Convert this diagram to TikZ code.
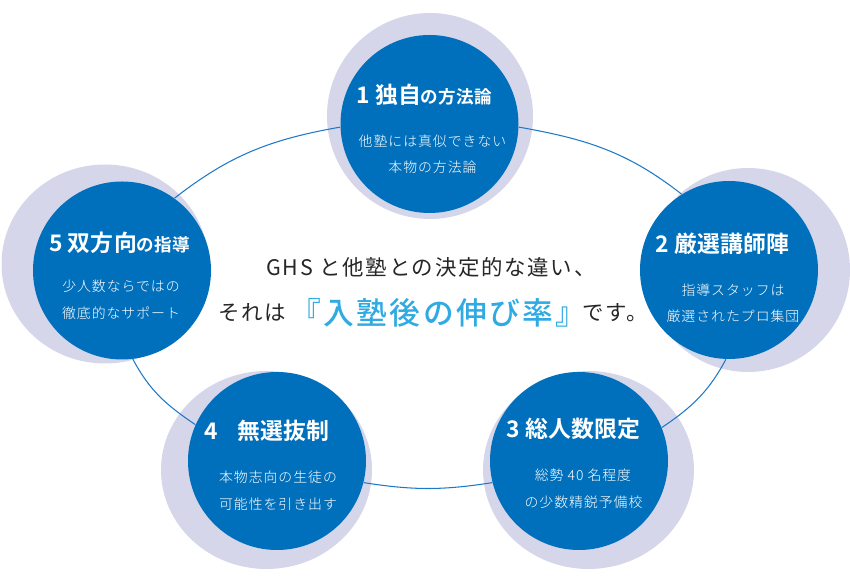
\documentclass[tikz,border=0pt]{standalone}
\usepackage{fontspec}
\usetikzlibrary{shapes.geometric}
\setmainfont{Noto Sans CJK JP}
\newfontfamily\titlefont[LetterSpace=1]{Noto Sans CJK JP Bold}
\newfontfamily\bodyfont[LetterSpace=7]{Noto Sans CJK JP Light}
\newfontfamily\leadfont[LetterSpace=8]{Noto Sans CJK JP}
\newfontfamily\ratefont[LetterSpace=8]{Noto Sans CJK JP Medium}
\definecolor{ringblue}{RGB}{30, 120, 200}
\definecolor{discblue}{RGB}{1, 112, 188}
\definecolor{halolilac}{RGB}{214, 214, 234}
\definecolor{rateblue}{RGB}{48, 170, 226}
\newcommand{\tsub}[1]{{\fontsize{10}{12}\selectfont #1}}
\tikzset{
  disc/.style={draw=none, circle, fill=discblue, minimum size=3.56cm, inner sep=0pt},
  halo/.style={draw=none, ellipse, fill=halolilac, inner sep=0pt},
  ring/.style={ringblue, line width=0.6pt},
  head/.style={text=white, font=\titlefont\fontsize{13}{15}\selectfont, inner sep=0pt},
  body/.style={text=white, font=\bodyfont\fontsize{7.9}{10}\selectfont, inner sep=0pt},
  lead/.style={text=black!85, font=\leadfont\fontsize{12.2}{14}\selectfont, inner sep=0pt}
}
\begin{document}
\begin{tikzpicture}
  \useasboundingbox (0, 0) rectangle (17, 11.64);

  % Halos behind the discs
  \node[halo, minimum width=4.12cm, minimum height=4.12cm] (halo1) at (8.6, 9.32) {};
  \node[halo, minimum width=4.14cm, minimum height=3.98cm] (halo5) at (2.1, 6.36) {};
  \node[halo, minimum width=4.08cm, minimum height=4.08cm] (halo2) at (14.96, 6.24) {};
  \node[halo, minimum width=4.22cm, minimum height=3.96cm] (halo4) at (5.33, 2.24) {};
  \node[halo, minimum width=4.22cm, minimum height=3.96cm] (halo3) at (11.77, 2.24) {};

  % Discs
  \node[disc] (disc1) at (8.59, 9.16) {};
  \node[disc] (disc2) at (14.58, 6.24) {};
  \node[disc] (disc3) at (11.58, 2.42) {};
  \node[disc] (disc4) at (5.54, 2.42) {};
  \node[disc] (disc5) at (2.44, 6.23) {};

  % Ring between the discs
  \draw[ring] (disc1.-2) to[out=-10, in=142] (disc2.122);
  \draw[ring] (disc2.-92) to[out=-118, in=34] (disc3.22);
  \draw[ring] (disc3.194) to[out=189, in=-9] (disc4.-14);
  \draw[ring] (disc4.156) to[out=146, in=-62] (disc5.-83);
  \draw[ring] (disc5.54) to[out=38, in=190] (disc1.182);

  % Disc 1
  \node[head] (head1) at (8.48, 9.74) {1 独自\tsub{の方法論}};
  \node[body] (body1a) at (8.65, 8.82) {他塾には真似できない};
  \node[body] (body1b) at (8.65, 8.3) {本物の方法論};

  % Disc 2
  \node[head] (head2) at (14.45, 6.76) {2 厳選講師陣};
  \node[body] (body2a) at (14.66, 5.84) {指導スタッフは};
  \node[body] (body2b) at (14.66, 5.32) {厳選されたプロ集団};

  % Disc 3
  \node[head] (head3) at (11.47, 3.06) {3 総人数限定};
  \node[body] (body3a) at (11.66, 2.14) {総勢 40 名程度};
  \node[body] (body3b) at (11.67, 1.6) {の少数精鋭予備校};

  % Disc 4
  \node[head] (head4) at (5.34, 3.02) {4\hspace{0.82em}無選抜制};
  \node[body] (body4a) at (5.56, 2.1) {本物志向の生徒の};
  \node[body] (body4b) at (5.56, 1.56) {可能性を引き出す};

  % Disc 5
  \node[head] (head5) at (2.39, 6.78) {5 双方向\tsub{の指導}};
  \node[body] (body5a) at (2.42, 5.92) {少人数ならではの};
  \node[body] (body5b) at (2.42, 5.38) {徹底的なサポート};

  % Centre text
  \node[lead] (lead1) at (8.62, 6.3) {GHS と他塾との決定的な違い、};
  \node[lead] (lead2a) at (5.04, 5.38) {それは};
  \node[lead, text=rateblue, font=\ratefont\fontsize{17.5}{20}\selectfont] (lead2b) at (8.77, 5.38) {『入塾後の伸び率』};
  \node[lead] (lead2c) at (12.31, 5.38) {です。};
\end{tikzpicture}
\end{document}
